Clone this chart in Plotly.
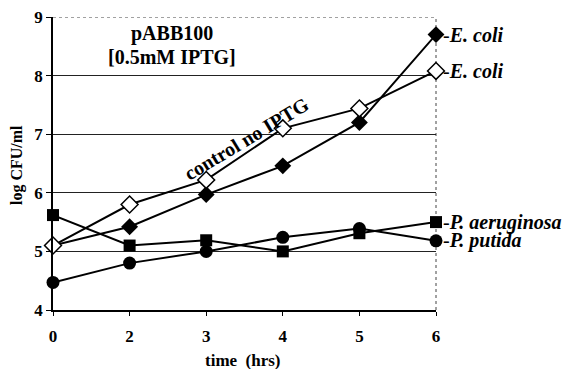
import plotly.graph_objects as go

# ---- data ----
times = ["0", "2", "3", "4", "5", "6"]
ecoli_iptg = [5.10, 5.42, 5.97, 6.46, 7.20, 8.70]
ecoli_control = [5.10, 5.80, 6.22, 7.10, 7.44, 8.08]
p_aeruginosa = [5.62, 5.10, 5.19, 5.00, 5.31, 5.50]
p_putida = [4.47, 4.80, 5.00, 5.24, 5.39, 5.18]
y_ticks = [4, 5, 6, 7, 8, 9]

FONT = "Liberation Serif"
W, H = 577, 369
L, R, T, B = 53, 141, 17, 59
PW, PH = W - L - R, H - T - B

def px2paper(px, py):
    return (px - L) / PW, (H - B - py) / PH

fig = go.Figure()

line = dict(color="black", width=2)
fig.add_trace(go.Scatter(x=times, y=p_putida, mode="lines+markers", line=line,
                         marker=dict(symbol="circle", size=13, color="black"),
                         cliponaxis=False, showlegend=False))
fig.add_trace(go.Scatter(x=times, y=p_aeruginosa, mode="lines+markers", line=line,
                         marker=dict(symbol="square", size=12, color="black"),
                         cliponaxis=False, showlegend=False))
fig.add_trace(go.Scatter(x=times, y=ecoli_iptg, mode="lines+markers", line=line,
                         marker=dict(symbol="diamond", size=13, color="black"),
                         cliponaxis=False, showlegend=False))
fig.add_trace(go.Scatter(x=times, y=ecoli_control, mode="lines+markers", line=line,
                         marker=dict(symbol="diamond", size=13, color="white",
                                     line=dict(color="black", width=1.5)),
                         cliponaxis=False, showlegend=False))

# top border (dotted) and right border (dotted)
fig.add_shape(type="line", xref="paper", yref="y", x0=0, x1=1, y0=9, y1=9,
              line=dict(color="#444", width=1, dash="dot"), layer="below")
fig.add_shape(type="line", xref="paper", yref="paper", x0=1, x1=1, y0=0, y1=1.0,
              line=dict(color="#444", width=1, dash="dot"), layer="below")

ann = []
# right-side series labels
lab_font = dict(family=FONT, size=20, color="black")
for txt, yv in [("-<b><i>E. coli</i></b>", ecoli_iptg[-1]),
                ("-<b><i>E. coli</i></b>", ecoli_control[-1]),
                ("-<b><i>P. aeruginosa</i></b>", p_aeruginosa[-1]),
                ("-<b><i>P. putida</i></b>", p_putida[-1])]:
    ann.append(dict(x=1, xref="paper", y=yv, yref="y", text=txt, showarrow=False,
                    xanchor="left", yanchor="middle", xshift=5, font=lab_font))

def centered(px, py, text, size, angle=0):
    x, y = px2paper(px, py)
    return dict(x=x, y=y, xref="paper", yref="paper", text=text, showarrow=False,
                xanchor="center", yanchor="middle", textangle=angle,
                font=dict(family=FONT, size=size, color="black"))

ann.append(centered(172, 33, "<b>pABB100</b>", 20))
ann.append(centered(172, 57, "<b>[0.5mM IPTG]</b>", 20))
ann.append(centered(246, 139, "<b>control no IPTG</b>", 20, -31))
ann.append(centered(17, 165, "<b>log CFU/ml</b>", 16, -90))
ann.append(centered(243, 360, "<b>time  (hrs)</b>", 17))

fig.update_layout(
    width=W, height=H,
    margin=dict(l=L, r=R, t=T, b=B, autoexpand=False),
    paper_bgcolor="white", plot_bgcolor="white",
    annotations=ann,
    font=dict(family=FONT, color="black"),
    xaxis=dict(type="category", range=[0, 5], showgrid=False, zeroline=False,
               showline=True, linecolor="black", linewidth=1.5,
               ticks="outside", ticklen=4, tickcolor="black",
               tickvals=times, ticktext=[f"<b>{t}</b>" for t in times],
               tickfont=dict(family=FONT, size=17, color="black"),
               ticklabelstandoff=6, fixedrange=True),
    yaxis=dict(range=[4, 9], tickvals=y_ticks, ticktext=[f"<b>{v}</b>" for v in y_ticks],
               showgrid=True, gridcolor="#222", gridwidth=1, zeroline=False,
               showline=True, linecolor="black", linewidth=1.5,
               ticks="outside", ticklen=5, tickcolor="black",
               tickfont=dict(family=FONT, size=17, color="black"), fixedrange=True),
)

fig.write_html("out.html")
